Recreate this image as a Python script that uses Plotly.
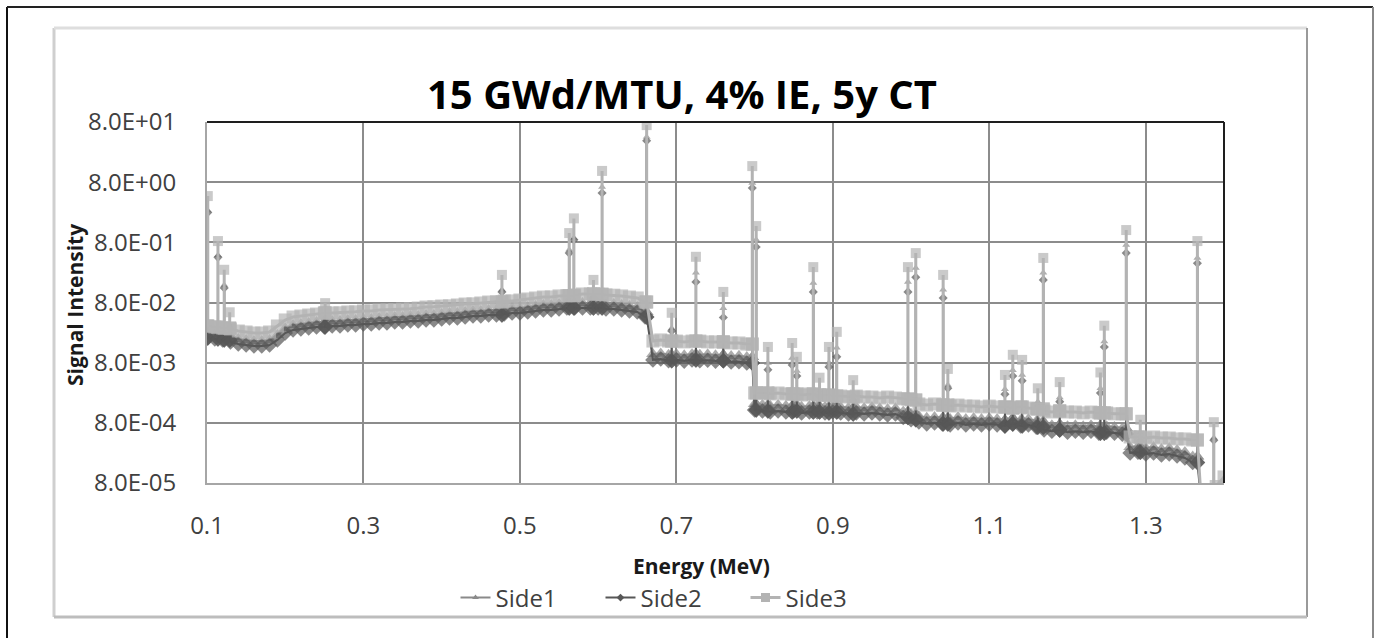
import plotly.graph_objects as go

# ---------------------------------------------------------------------------
# Spectrum data (energy in MeV, signal intensity)
# ---------------------------------------------------------------------------
# Continuum sampled on a 0.01 MeV grid from 0.10 to 1.40 MeV
energy = [round(0.10 + 0.01 * i, 2) for i in range(131)]

side3_cont = [
    0.0326, 0.0313, 0.0301, 0.0290, 0.0269, 0.0259, 0.0249, 0.0249, 0.0259, 0.0326,
    0.0410, 0.0459, 0.0477, 0.0496, 0.0515, 0.0536, 0.0536, 0.0540, 0.0557, 0.0560,
    0.0578, 0.0580, 0.0601, 0.0605, 0.0610, 0.0624, 0.0630, 0.0648, 0.0674, 0.0680,
    0.0700, 0.0705, 0.0728, 0.0756, 0.0760, 0.0786, 0.0816, 0.0820, 0.0848, 0.0850,
    0.0881, 0.0916, 0.0952, 0.0988, 0.0990, 0.103, 0.104, 0.107, 0.111, 0.111,
    0.110, 0.107, 0.106, 0.103, 0.0988, 0.0952, 0.0816, 0.0183, 0.0191, 0.0183,
    0.0183, 0.0177, 0.0183, 0.0183, 0.0177, 0.0177, 0.0177, 0.0170, 0.0170, 0.0163,
    0.00251, 0.00251, 0.00242, 0.00251, 0.00242, 0.00242, 0.00232, 0.00242, 0.00232, 0.00232,
    0.00223, 0.00223, 0.00215, 0.00223, 0.00215, 0.00215, 0.00207, 0.00215, 0.00207, 0.00200,
    0.00192, 0.00165, 0.00158, 0.00165, 0.00158, 0.00152, 0.00158, 0.00152, 0.00152, 0.00147,
    0.00152, 0.00147, 0.00147, 0.00141, 0.00147, 0.00141, 0.00136, 0.00126, 0.00121, 0.00126,
    0.00121, 0.00121, 0.00117, 0.00121, 0.00117, 0.00117, 0.00113, 0.00113, 0.000466, 0.000466,
    0.000448, 0.000466, 0.000448, 0.000448, 0.000432, 0.000432, 0.000415, 0.000060, 0.000062, 0.000070,
    0.000101,
]

side2_cont = [
    0.0206, 0.0198, 0.0191, 0.0177, 0.0163, 0.0157, 0.0151, 0.0151, 0.0157, 0.0191,
    0.0249, 0.0279, 0.0290, 0.0301, 0.0313, 0.0313, 0.0326, 0.0326, 0.0338, 0.0338,
    0.0352, 0.0352, 0.0365, 0.0365, 0.0380, 0.0380, 0.0395, 0.0395, 0.0410, 0.0410,
    0.0426, 0.0443, 0.0443, 0.0459, 0.0477, 0.0477, 0.0496, 0.0496, 0.0515, 0.0536,
    0.0536, 0.0557, 0.0578, 0.0601, 0.0601, 0.0624, 0.0648, 0.0648, 0.0648, 0.0648,
    0.0648, 0.0624, 0.0624, 0.0601, 0.0578, 0.0557, 0.0459, 0.0089, 0.0092, 0.0086,
    0.0089, 0.0085, 0.0089, 0.0086, 0.0088, 0.0085, 0.0086, 0.0082, 0.0083, 0.0079,
    0.00131, 0.00126, 0.00121, 0.00126, 0.00121, 0.00126, 0.00117, 0.00121, 0.00121, 0.00117,
    0.00121, 0.00117, 0.00112, 0.00117, 0.00112, 0.00117, 0.00112, 0.00108, 0.00112, 0.00098,
    0.00090, 0.00083, 0.00077, 0.00080, 0.00077, 0.00074, 0.00080, 0.00074, 0.00077, 0.00074,
    0.00077, 0.00074, 0.00071, 0.00077, 0.00071, 0.00074, 0.00068, 0.00061, 0.00058, 0.00061,
    0.00056, 0.00058, 0.00056, 0.00058, 0.00054, 0.00056, 0.00054, 0.00052, 0.000252, 0.000260,
    0.000243, 0.000252, 0.000234, 0.000243, 0.000225, 0.000209, 0.000175, 0.000050, 0.000052, 0.000055,
    0.000060,
]

side1_cont = [
    0.0250, 0.0240, 0.0232, 0.0215, 0.0198, 0.0190, 0.0183, 0.0184, 0.0191, 0.0231,
    0.0300, 0.0337, 0.0350, 0.0364, 0.0378, 0.0379, 0.0394, 0.0395, 0.0409, 0.0410,
    0.0426, 0.0427, 0.0441, 0.0442, 0.0460, 0.0461, 0.0478, 0.0479, 0.0496, 0.0497,
    0.0515, 0.0536, 0.0537, 0.0556, 0.0577, 0.0578, 0.0600, 0.0601, 0.0623, 0.0648,
    0.0649, 0.0674, 0.0700, 0.0727, 0.0728, 0.0755, 0.0784, 0.0785, 0.0786, 0.0785,
    0.0784, 0.0755, 0.0756, 0.0727, 0.0700, 0.0674, 0.0556, 0.0111, 0.0114, 0.0108,
    0.0111, 0.0106, 0.0111, 0.0108, 0.0110, 0.0106, 0.0108, 0.0103, 0.0104, 0.0099,
    0.00165, 0.00160, 0.00154, 0.00160, 0.00154, 0.00158, 0.00148, 0.00153, 0.00152, 0.00148,
    0.00152, 0.00147, 0.00142, 0.00147, 0.00141, 0.00146, 0.00140, 0.00136, 0.00140, 0.00123,
    0.00113, 0.00104, 0.00097, 0.00100, 0.00097, 0.00093, 0.00100, 0.00093, 0.00096, 0.00093,
    0.00096, 0.00093, 0.00089, 0.00096, 0.00089, 0.00093, 0.00085, 0.00077, 0.00073, 0.00076,
    0.00070, 0.00073, 0.00070, 0.00073, 0.00068, 0.00070, 0.00068, 0.00065, 0.000316, 0.000326,
    0.000305, 0.000316, 0.000294, 0.000305, 0.000282, 0.000262, 0.000220, 0.000055, 0.000058, 0.000062,
    0.000075,
]

# Photopeak lines (energy in MeV) and their peak heights for each side
peak_energy = [
    0.101, 0.114, 0.122, 0.129, 0.251, 0.477, 0.563, 0.569, 0.594, 0.605,
    0.662, 0.694, 0.725, 0.760, 0.797, 0.802, 0.817, 0.848, 0.854, 0.875,
    0.883, 0.895, 0.905, 0.926, 0.996, 1.006, 1.041, 1.047, 1.120, 1.130,
    1.142, 1.162, 1.169, 1.190, 1.242, 1.247, 1.275, 1.293, 1.366, 1.387,
]
peak_side3 = [
    4.7, 0.84, 0.28, 0.055, 0.078, 0.23, 1.14, 2.0, 0.19, 12.3,
    71.0, 0.054, 0.46, 0.12, 14.8, 1.49, 0.0146, 0.017, 0.010, 0.31,
    0.0045, 0.0146, 0.026, 0.0041, 0.31, 0.53, 0.23, 0.0063, 0.0050, 0.0108,
    0.0089, 0.0030, 0.44, 0.0038, 0.0055, 0.033, 1.28, 0.0009, 0.84, 0.00082,
]
peak_side1 = [
    2.7, 0.49, 0.156, 0.034, 0.047, 0.13, 0.60, 0.94, 0.105, 6.65,
    45.0, 0.030, 0.25, 0.064, 7.75, 0.88, 0.0079, 0.0096, 0.0058, 0.168,
    0.0027, 0.008, 0.0141, 0.0024, 0.175, 0.30, 0.13, 0.0034, 0.0029, 0.006,
    0.0050, 0.0018, 0.25, 0.0021, 0.0030, 0.018, 0.72, 0.00055, 0.44, 0.00045,
]
peak_side2 = [
    2.5, 0.45, 0.14, 0.030, 0.042, 0.12, 0.53, 0.88, 0.095, 5.3,
    39.0, 0.027, 0.175, 0.045, 6.4, 0.67, 0.0061, 0.0073, 0.0048, 0.12,
    0.0022, 0.0068, 0.0100, 0.0019, 0.12, 0.21, 0.095, 0.0030, 0.0024, 0.0048,
    0.0040, 0.0015, 0.19, 0.0018, 0.0025, 0.0146, 0.53, 0.00040, 0.36, 0.00041,
]

x_ticks = [0.1, 0.3, 0.5, 0.7, 0.9, 1.1, 1.3]
x_tick_text = ["0.1", "0.3", "0.5", "0.7", "0.9", "1.1", "1.3"]
y_ticks = [8e-5, 8e-4, 8e-3, 8e-2, 8e-1, 8e0, 8e1]
y_tick_text = ["8.0E-05", "8.0E-04", "8.0E-03", "8.0E-02", "8.0E-01", "8.0E+00", "8.0E+01"]

series_names = ["Side1", "Side2", "Side3"]


def build_series(cont, peaks):
    """Merge the continuum samples with the photopeak spikes.

    Returns x, y and a flag telling whether each point is a peak top."""
    pts = [(e, v, 0) for e, v in zip(energy, cont)]
    for e, top in zip(peak_energy, peaks):
        # base of the spike: continuum sample at or just below the peak energy
        idx = max(i for i, g in enumerate(energy) if g <= e)
        base = cont[idx]
        pts += [(e, base, 1), (e, top, 2), (e, base, 3)]
    pts.sort(key=lambda p: (p[0], p[2]))
    return [p[0] for p in pts], [p[1] for p in pts], [p[2] == 2 for p in pts]


# ---------------------------------------------------------------------------
# Figure geometry (pixels)
# ---------------------------------------------------------------------------
W, H = 1374, 638
L, R, T, B = 207, 1224, 122, 483


def px(x):
    return (x - L) / (R - L)


def py(y):
    return (B - y) / (B - T)


FONT = "Open Sans"

# band = marker size along the continuum, top = marker size at a peak apex
styles = {
    "Side1": dict(color="#8a8a8a", symbol="triangle-up", band=12, top=7, width=2),
    "Side2": dict(color="#575757", symbol="diamond", band=12, top=7, width=2),
    "Side3": dict(color="#b3b3b3", symbol="square", band=13, top=10, width=3),
}

fig = go.Figure()
for name, cont, peaks in zip(series_names,
                             [side1_cont, side2_cont, side3_cont],
                             [peak_side1, peak_side2, peak_side3]):
    xs, ys, is_top = build_series(cont, peaks)
    st = styles[name]
    sizes = [st["top"] if t else st["band"] for t in is_top]
    fig.add_trace(go.Scatter(
        x=xs, y=ys, name=name, mode="lines+markers", legendgroup=name,
        showlegend=False,
        line=dict(color=st["color"], width=st["width"]),
        marker=dict(color=st["color"], symbol=st["symbol"], size=sizes,
                    line=dict(width=0)),
    ))

# legend keys with small markers
for name in series_names:
    st = styles[name]
    fig.add_trace(go.Scatter(
        x=[None], y=[None], name=name, mode="lines+markers", legendgroup=name,
        line=dict(color=st["color"], width=st["width"]),
        marker=dict(color=st["color"], symbol=st["symbol"], size=st["top"] - 1,
                    line=dict(width=0)),
    ))

grid_col = "#8c8c8c"
fig.update_xaxes(
    range=[0.1, 1.4], tickvals=x_ticks, ticktext=x_tick_text,
    showgrid=True, gridcolor=grid_col, gridwidth=2,
    showline=True, linecolor="#a6a6a6", linewidth=2,
    ticks="", ticklabelstandoff=20,
    tickfont=dict(family=FONT, size=24, color="#404040"),
    zeroline=False,
)
fig.update_yaxes(
    type="log", range=[-4.09691, 1.90309], tickvals=y_ticks, ticktext=y_tick_text,
    showgrid=True, gridcolor=grid_col, gridwidth=2,
    showline=True, linecolor="#a6a6a6", linewidth=2,
    ticks="", ticklabelstandoff=24,
    tickfont=dict(family=FONT, size=24, color="#404040"),
    zeroline=False,
)

shapes = [
    # outer border
    dict(type="line", x0=px(7), x1=px(7), y0=py(7), y1=py(645), line=dict(color="#111", width=2)),
    dict(type="line", x0=px(7), x1=px(1373), y0=py(7), y1=py(7), line=dict(color="#222", width=2)),
    dict(type="line", x0=px(1373), x1=px(1373), y0=py(7), y1=py(645), line=dict(color="#888", width=2)),
    # chart area frame
    dict(type="line", x0=px(54), x1=px(54), y0=py(28), y1=py(617), line=dict(color="#cfcfcf", width=3)),
    dict(type="line", x0=px(54), x1=px(1307), y0=py(28), y1=py(28), line=dict(color="#dedede", width=3)),
    dict(type="line", x0=px(1307), x1=px(1307), y0=py(28), y1=py(617), line=dict(color="#9a9a9a", width=2)),
    dict(type="line", x0=px(54), x1=px(1307), y0=py(617), y1=py(617), line=dict(color="#bdbdbd", width=3)),
    # plot area top and right edges
    dict(type="line", x0=0, x1=1, y0=1, y1=1, line=dict(color="#1e1e1e", width=2)),
    dict(type="line", x0=1, x1=1, y0=0, y1=1, line=dict(color="#1e1e1e", width=2)),
]
for s in shapes:
    s.update(xref="paper", yref="paper")

annotations = [
    dict(text="<b>15 GWd/MTU, 4% IE, 5y CT</b>", x=px(682), y=py(93),
         font=dict(family=FONT, size=40, color="#000")),
    dict(text="<b>Energy (MeV)</b>", x=px(701), y=py(566),
         font=dict(family=FONT, size=21, color="#1a1a1a")),
    dict(text="<b>Signal Intensity</b>", x=px(75), y=py(305), textangle=-90,
         font=dict(family=FONT, size=21, color="#1a1a1a")),
]
for a in annotations:
    a.update(xref="paper", yref="paper", showarrow=False, xanchor="center", yanchor="middle")

fig.update_layout(
    width=W, height=H,
    margin=dict(l=L, r=W - R, t=T, b=H - B, pad=0),
    paper_bgcolor="white", plot_bgcolor="white",
    shapes=shapes, annotations=annotations,
    showlegend=True,
    legend=dict(orientation="h", x=px(673), y=py(598), xanchor="center", yanchor="middle",
                font=dict(family=FONT, size=24, color="#404040"),
                bgcolor="rgba(0,0,0,0)", itemwidth=30,
                entrywidth=100, entrywidthmode="pixels"),
)

fig.write_html("out.html")
